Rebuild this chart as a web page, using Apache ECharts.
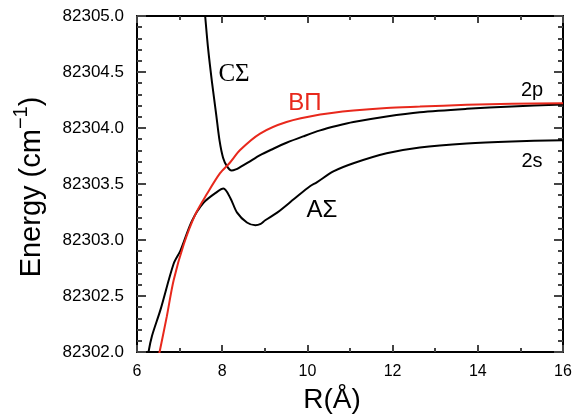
<!DOCTYPE html>
<html>
<head>
<meta charset="utf-8">
<script src="https://cdn.jsdelivr.net/npm/echarts@6/dist/echarts.min.js"></script>
<style>html,body{margin:0;padding:0;background:#fff}#c{width:580px;height:419px}</style>
</head>
<body>
<div id="c"></div>
<script>
// C-Sigma state (black, upper, goes to 2p)
const cSigmaR = [7.56, 7.60, 7.67, 7.76, 7.86, 7.94, 8.02, 8.11, 8.22, 8.32, 8.42, 8.60, 8.89, 9.20, 9.51, 9.90, 10.30, 10.70, 11.08, 11.86, 12.64, 13.74, 14.80, 16.00];
const cSigmaE = [82305.18, 82305.00, 82304.706, 82304.41, 82304.118, 82303.882, 82303.735, 82303.66, 82303.62, 82303.63, 82303.65, 82303.69, 82303.758, 82303.815, 82303.868, 82303.925, 82303.979, 82304.02, 82304.053, 82304.103, 82304.141, 82304.171, 82304.192, 82304.21];
// B-Pi state (red)
const bPiR = [6.47, 6.53, 6.70, 6.86, 7.10, 7.37, 7.64, 7.95, 8.18, 8.42, 8.89, 9.51, 10.30, 11.08, 11.86, 12.64, 13.74, 14.80, 16.00];
const bPiE = [82301.88, 82302.00, 82302.318, 82302.641, 82302.964, 82303.229, 82303.41, 82303.597, 82303.69, 82303.803, 82303.95, 82304.053, 82304.12, 82304.156, 82304.179, 82304.191, 82304.207, 82304.216, 82304.222];
// A-Sigma state (black, lower, goes to 2s)
const aSigmaR = [6.24, 6.27, 6.35, 6.55, 6.86, 7.02, 7.29, 7.56, 7.88, 8.03, 8.19, 8.35, 8.58, 8.78, 8.89, 9.01, 9.29, 9.70, 10.06, 10.22, 10.61, 11.08, 11.86, 12.64, 13.74, 14.80, 16.00];
const aSigmaE = [82301.90, 82302.00, 82302.141, 82302.376, 82302.788, 82302.906, 82303.171, 82303.332, 82303.43, 82303.459, 82303.376, 82303.244, 82303.156, 82303.132, 82303.141, 82303.176, 82303.244, 82303.37, 82303.48, 82303.515, 82303.612, 82303.685, 82303.774, 82303.826, 82303.862, 82303.88, 82303.891];

const xTicks = [6, 8, 10, 12, 14, 16];
const yTicks = ['82302.0', '82302.5', '82303.0', '82303.5', '82304.0', '82304.5', '82305.0'];

const pairs = (xs, ys) => xs.map((x, i) => [x, ys[i]]);

const X_MIN = xTicks[0], X_MAX = xTicks[xTicks.length - 1];
const Y_MIN = Number(yTicks[0]), Y_MAX = Number(yTicks[yTicks.length - 1]);

const chart = echarts.init(document.getElementById('c'), null, {renderer: 'canvas'});

function xAxisDef(pos, main) {
  const a = {
    type: 'value', position: pos,
    min: X_MIN, max: X_MAX, interval: 2,
    axisLine: {show: true, onZero: false, lineStyle: {color: '#000', width: 2}},
    axisTick: {show: true, inside: true, length: 7, lineStyle: {color: '#444', width: 2}},
    minorTick: {show: true, splitNumber: 2, length: 4, lineStyle: {color: '#444', width: 2}},
    axisLabel: main ? {show: true, fontFamily: 'Liberation Sans', fontSize: 16, color: '#000', margin: 12} : {show: false},
    splitLine: {show: false}
  };
  if (main) {
    a.name = 'R(Å)';
    a.nameLocation = 'middle';
    a.nameGap = 34;
    a.nameTextStyle = {fontFamily: 'Liberation Sans', fontSize: 28, color: '#000', padding: [0, 36, 0, 0]};
  }
  return a;
}
function yAxisDef(pos, main) {
  const a = {
    type: 'value', position: pos,
    min: Y_MIN, max: Y_MAX, interval: 0.5,
    axisLine: {show: true, onZero: false, lineStyle: {color: '#000', width: 2}},
    axisTick: {show: true, inside: true, length: 9, lineStyle: {color: '#444', width: 2}},
    minorTick: {show: true, splitNumber: 5, length: 5, lineStyle: {color: '#444', width: 2}},
    axisLabel: main ? {show: true, fontFamily: 'Liberation Sans', fontSize: 17, color: '#000', margin: 13,
      formatter: v => v.toFixed(1)} : {show: false},
    splitLine: {show: false}
  };
  if (main) {
    a.name = '{m|Energy (cm}{s|−1}{m|)}';
    a.nameLocation = 'middle';
    a.nameGap = 84;
    a.nameTextStyle = {
      color: '#000', padding: [0, 6, 0, 0],
      rich: {
        m: {fontFamily: 'Liberation Sans', fontSize: 29, color: '#000', lineHeight: 42},
        s: {fontFamily: 'Liberation Sans', fontSize: 20, color: '#000', lineHeight: 20, verticalAlign: 'top'}
      }
    };
  }
  return a;
}

const option = {
  backgroundColor: '#fff',
  animation: false,
  grid: {left: 137, right: 17, top: 16, bottom: 63, containLabel: false},
  xAxis: [xAxisDef('bottom', true), xAxisDef('top', false)],
  yAxis: [yAxisDef('left', true), yAxisDef('right', false)],
  series: [
    {name: 'CΣ', type: 'line', xAxisIndex: 0, yAxisIndex: 0, data: pairs(cSigmaR, cSigmaE), showSymbol: false, smooth: 0.3,
      lineStyle: {color: '#000', width: 2}, itemStyle: {color: '#000'}, clip: true},
    {name: 'AΣ', type: 'line', xAxisIndex: 0, yAxisIndex: 0, data: pairs(aSigmaR, aSigmaE), showSymbol: false, smooth: 0.3,
      lineStyle: {color: '#000', width: 2}, itemStyle: {color: '#000'}, clip: true},
    {name: 'BΠ', type: 'line', xAxisIndex: 0, yAxisIndex: 0, data: pairs(bPiR, bPiE), showSymbol: false, smooth: 0.3,
      lineStyle: {color: '#e8281c', width: 2}, itemStyle: {color: '#e8281c'}, clip: true, z: 3}
  ],
  graphic: [
    {type: 'text', x: 234, y: 74, style: {text: 'CΣ', fill: '#000', font: '25px "Liberation Serif"', align: 'center', verticalAlign: 'middle'}},
    {type: 'text', x: 305, y: 103, style: {text: 'BΠ', fill: '#e8281c', font: '24px "Liberation Sans"', align: 'center', verticalAlign: 'middle'}},
    {type: 'text', x: 322, y: 210, style: {text: 'AΣ', fill: '#000', font: '24px "Liberation Sans"', align: 'center', verticalAlign: 'middle'}},
    {type: 'text', x: 532, y: 90, style: {text: '2p', fill: '#000', font: '20px "Liberation Sans"', align: 'center', verticalAlign: 'middle'}},
    {type: 'text', x: 532, y: 161, style: {text: '2s', fill: '#000', font: '20px "Liberation Sans"', align: 'center', verticalAlign: 'middle'}}
  ]
};
chart.setOption(option);
</script>
</body>
</html>
